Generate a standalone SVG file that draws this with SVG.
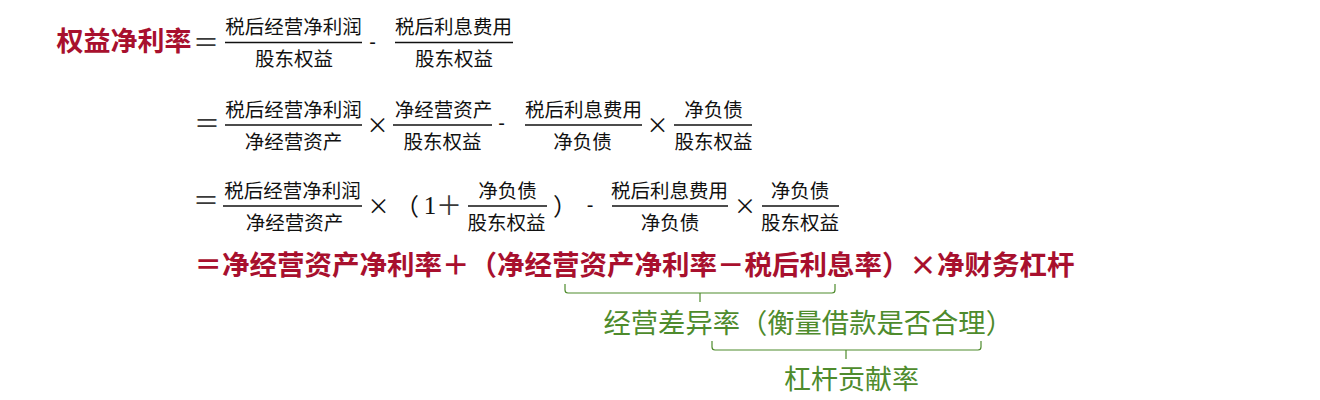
<svg xmlns="http://www.w3.org/2000/svg" width="1320" height="400" viewBox="0 0 1320 400">
<style>
.t{font-family:"Noto Sans CJK SC","Noto Sans CJK JP",sans-serif;font-size:19.5px;fill:#111;text-anchor:middle}
.bar{stroke:#111;stroke-width:1.3}
.eq{font-family:"Noto Sans CJK SC",sans-serif;font-size:26px;fill:#3a3a3a;text-anchor:middle}
.x{font-family:"Noto Sans CJK SC",sans-serif;font-size:22px;fill:#111;text-anchor:middle}
.m{font-family:"Liberation Sans",sans-serif;font-size:20px;fill:#111;text-anchor:middle}
.p{font-family:"Noto Sans CJK SC",sans-serif;font-size:24px;fill:#111}
.red{font-family:"Noto Sans CJK SC",sans-serif;font-weight:700;fill:#A8102E}
.grn{font-family:"Noto Sans CJK SC",sans-serif;fill:#4E8B2C}
.br{fill:none;stroke:#4E8B2C;stroke-width:1.2}
</style>
<rect width="1320" height="400" fill="#fff"/>

<g id="line1">
  <text class="red" x="56.5" y="51" font-size="27">权益净利率</text>
  <text class="eq" x="206" y="52">＝</text>
  <g id="l1f1">
    <text class="t" x="293.5" y="34">税后经营净利润</text>
    <line class="bar" x1="225" y1="42.5" x2="362" y2="42.5"/>
    <text class="t" x="294" y="66">股东权益</text>
  </g>
  <text class="m" x="372.5" y="49">-</text>
  <g id="l1f2">
    <text class="t" x="453.5" y="34">税后利息费用</text>
    <line class="bar" x1="395" y1="42.5" x2="513" y2="42.5"/>
    <text class="t" x="454" y="66">股东权益</text>
  </g>
</g>

<g id="line2">
  <text class="eq" x="207" y="133">＝</text>
  <g id="l2f1">
    <text class="t" x="293.5" y="116.5">税后经营净利润</text>
    <line class="bar" x1="225" y1="125" x2="362" y2="125"/>
    <text class="t" x="293.5" y="148.5">净经营资产</text>
  </g>
  <text class="x" x="377.5" y="133">×</text>
  <g id="l2f2">
    <text class="t" x="443.5" y="116.5">净经营资产</text>
    <line class="bar" x1="393" y1="125" x2="492" y2="125"/>
    <text class="t" x="442.5" y="148.5">股东权益</text>
  </g>
  <text class="m" x="501.5" y="130">-</text>
  <g id="l2f3">
    <text class="t" x="583.5" y="116.5">税后利息费用</text>
    <line class="bar" x1="525" y1="125" x2="642" y2="125"/>
    <text class="t" x="582.5" y="148.5">净负债</text>
  </g>
  <text class="x" x="657.5" y="133">×</text>
  <g id="l2f4">
    <text class="t" x="713.5" y="116.5">净负债</text>
    <line class="bar" x1="674" y1="125" x2="752" y2="125"/>
    <text class="t" x="713.5" y="148.5">股东权益</text>
  </g>
</g>

<g id="line3">
  <text class="eq" x="206" y="210">＝</text>
  <g id="l3f1">
    <text class="t" x="292.5" y="197.5">税后经营净利润</text>
    <line class="bar" x1="223" y1="206" x2="362" y2="206"/>
    <text class="t" x="294.5" y="229.5">净经营资产</text>
  </g>
  <text class="x" x="378.5" y="214">×</text>
  <text class="p" x="395" y="215">（</text>
  <text x="430" y="214" font-family="Liberation Serif" font-size="25" fill="#111" text-anchor="middle">1</text>
  <text class="eq" x="449" y="215" fill="#111">＋</text>
  <g id="l3f2">
    <text class="t" x="507.5" y="197.5">净负债</text>
    <line class="bar" x1="468" y1="206" x2="547" y2="206"/>
    <text class="t" x="506.5" y="229.5">股东权益</text>
  </g>
  <text class="p" x="553" y="215">）</text>
  <text class="m" x="590" y="212">-</text>
  <g id="l3f3">
    <text class="t" x="669.5" y="197.5">税后利息费用</text>
    <line class="bar" x1="612" y1="206" x2="728" y2="206"/>
    <text class="t" x="670" y="229.5">净负债</text>
  </g>
  <text class="x" x="745" y="214">×</text>
  <g id="l3f4">
    <text class="t" x="800" y="197.5">净负债</text>
    <line class="bar" x1="762" y1="206" x2="839" y2="206"/>
    <text class="t" x="800" y="229.5">股东权益</text>
  </g>
</g>

<g id="line4">
  <text class="red" x="194.5" y="275" font-size="27.5">＝净经营资产净利率＋（净经营资产净利率－税后利息率）</text>
  <text class="red" x="923" y="275" font-size="27.5" text-anchor="middle">×</text>
  <text class="red" x="937" y="275" font-size="27.5">净财务杠杆</text>
</g>

<g id="connectors">
  <path class="br" d="M565,284 V290 Q565,293 568,293 H832 Q835,293 835,290 V284 M700,293 V302"/>
  <path class="br" d="M712,341 V347 Q712,350 715,350 H978 Q981,350 981,347 V341 M846,350 V359"/>
</g>

<g id="label1">
  <text class="grn" x="603.5" y="333" font-size="27.3">经营差异率（衡量借款是否合理）</text>
</g>
<g id="label2">
  <text class="grn" x="784" y="389" font-size="27">杠杆贡献率</text>
</g>
</svg>
